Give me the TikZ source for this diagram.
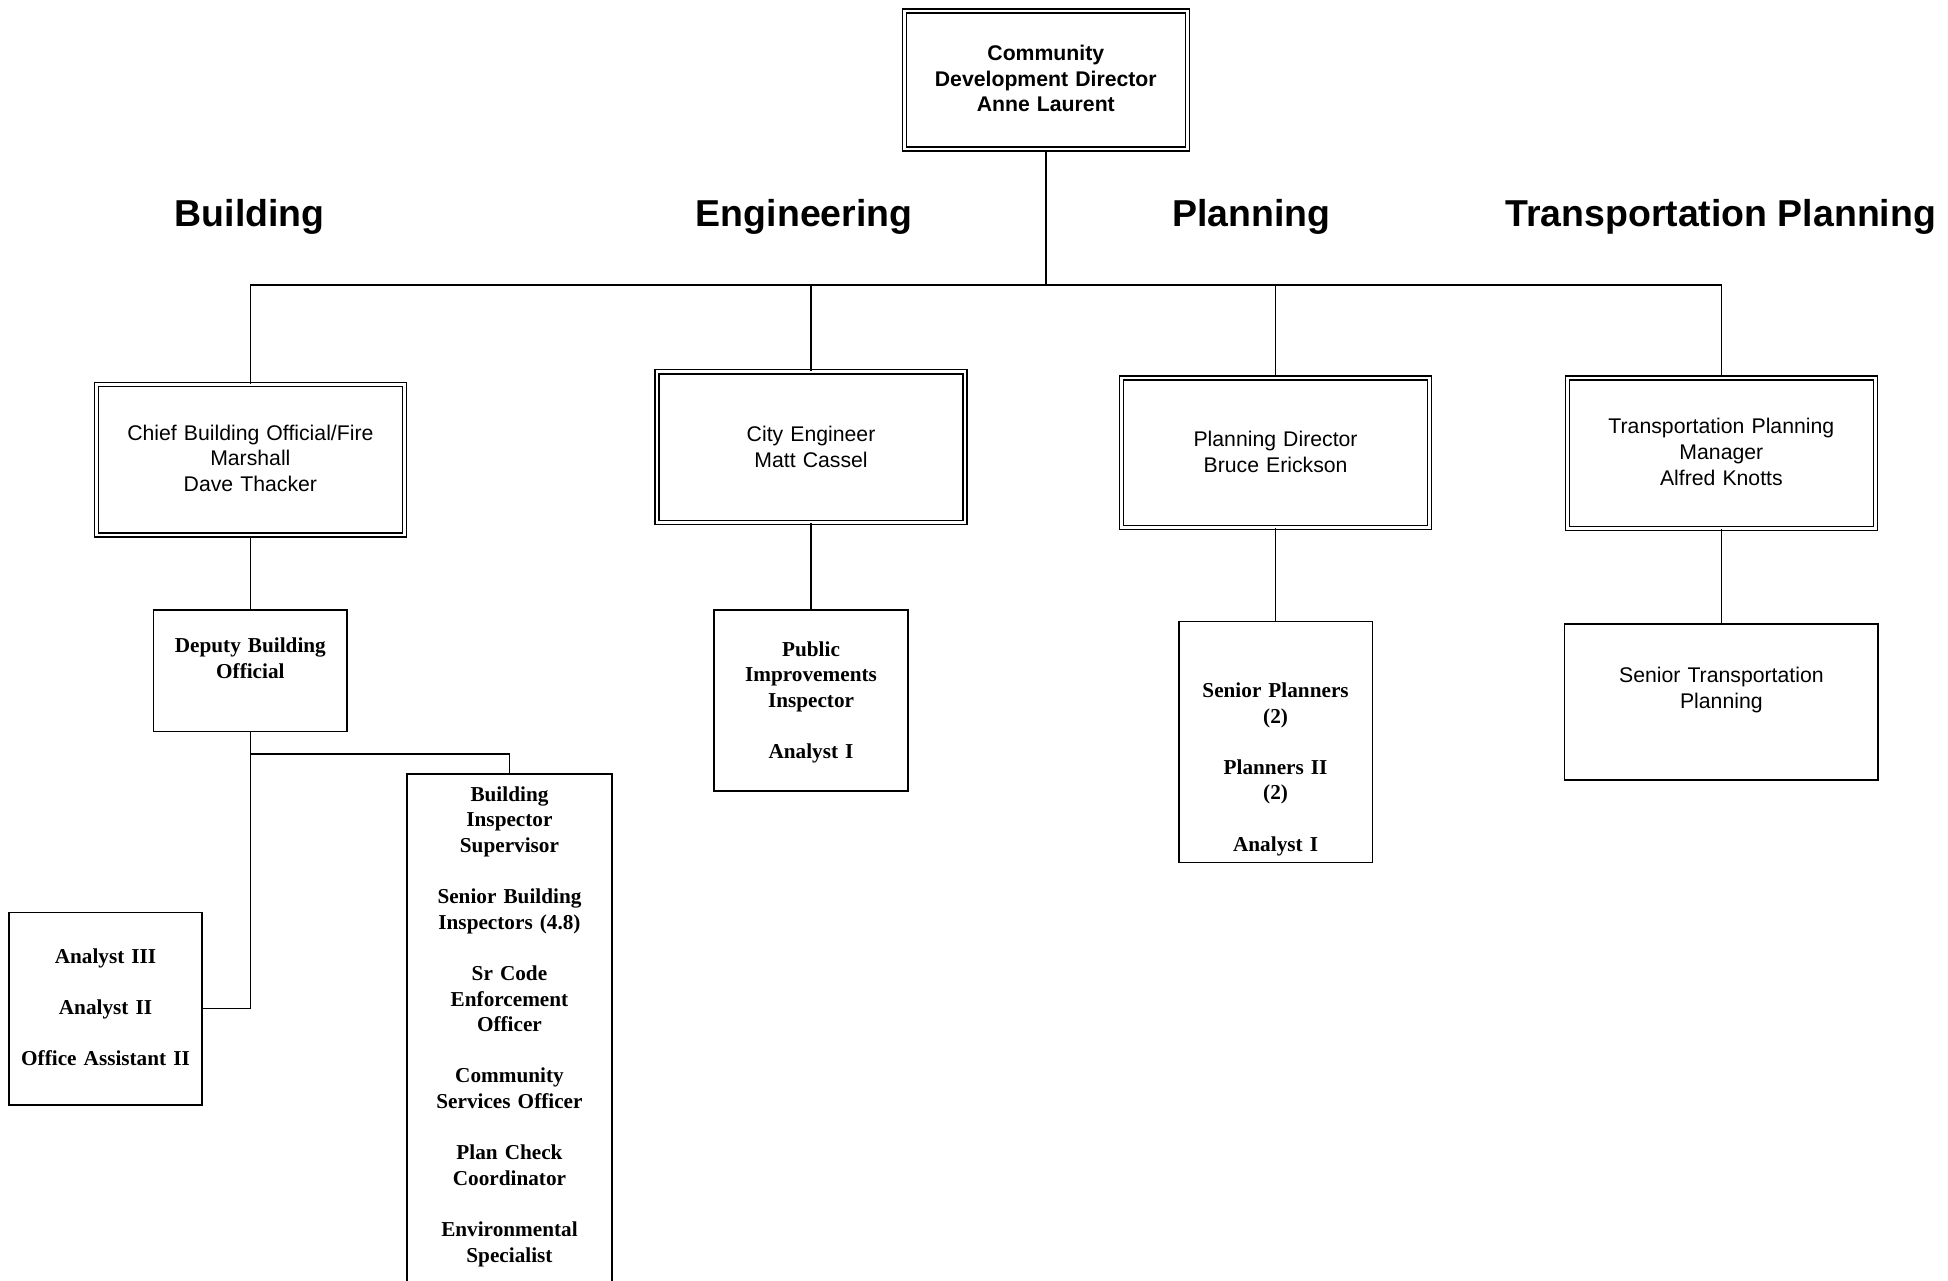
\documentclass[tikz,border=0pt]{standalone}
\usepackage{fontspec}
\setmainfont{Liberation Serif}
\setsansfont{Liberation Sans}
\usepackage{tikz}

\begin{document}
\begin{tikzpicture}[x=0.5pt, y=-0.5pt, line width=0.65pt,
    head/.style={font=\sffamily\bfseries\fontsize{15}{18}\selectfont, anchor=base},
    unit/.style={draw, anchor=north, inner sep=0pt, align=center},
    lead/.style={unit, double, double distance=1.1pt, line width=0.55pt, font=\sffamily\fontsize{8.5}{10.25}\selectfont},
    staff/.style={unit, font=\rmfamily\bfseries\fontsize{8.5}{10.25}\selectfont}]
    \useasboundingbox (0,0) rectangle (1560,1025.85);

    % Director on top
    \node[lead, font=\sffamily\bfseries\fontsize{8.5}{10.25}\selectfont, text width=113.3pt, text height=19.9pt, text depth=35.4pt] (cdd) at (837.5,8.2) {Community\\Development Director\\Anne Laurent};

    % Division headings
    \node[head] (hbuild) at (200,181) {Building};
    \node[head] (heng) at (644,181) {Engineering};
    \node[head] (hplan) at (1002,181) {Planning};
    \node[head] (htrans) at (1378,181) {Transportation Planning};

    % Division heads
    \node[lead, text width=123.3pt, text height=22.4pt, text depth=37.9pt] (chief) at (200.5,307.2) {Chief Building Official/Fire\\Marshall\\Dave Thacker};
    \node[lead, text width=123.3pt, text height=27.9pt, text depth=32.4pt] (eng) at (649.5,297.2) {City Engineer\\Matt Cassel};
    \node[lead, text width=123.3pt, text height=27.4pt, text depth=32.4pt] (plan) at (1021.5,302.2) {Planning Director\\Bruce Erickson};
    \node[lead, text width=123.3pt, text height=22.4pt, text depth=37.9pt] (trans) at (1378.5,302.2) {Transportation Planning\\Manager\\Alfred Knotts};

    % Staff boxes
    \node[staff, text width=77.5pt, text height=17pt, text depth=31.5pt] (deputy) at (200.5,488) {Deputy Building\\Official};
    \node[staff, text width=77.5pt, text height=18.5pt, text depth=54pt] (inspector) at (649.5,488) {Public\\Improvements\\Inspector\\[10.25pt]Analyst I};
    \node[staff, text width=77.5pt, text height=30.5pt, text depth=66pt] (planners) at (1021.5,497) {Senior Planners\\(2)\\[10.25pt]Planners II\\(2)\\[10.25pt]Analyst I};
    \node[unit, font=\sffamily\fontsize{8.5}{10.25}\selectfont, text width=125.5pt, text height=23.5pt, text depth=39pt] (seniortp) at (1378.5,499) {Senior Transportation\\Planning};
    \node[staff, text width=82pt, text height=11pt, text depth=220pt] (bldgstaff) at (408,619) {Building\\Inspector\\Supervisor\\[10.25pt]Senior Building\\Inspectors (4.8)\\[10.25pt]Sr Code\\Enforcement\\Officer\\[10.25pt]Community\\Services Officer\\[10.25pt]Plan Check\\Coordinator\\[10.25pt]Environmental\\Specialist};
    \node[staff, text width=77.5pt, text height=20.5pt, text depth=56.5pt] (analysts) at (84.5,730) {Analyst III\\[10.25pt]Analyst II\\[10.25pt]Office Assistant II};

    % Connectors
    \coordinate (bus) at (cdd.south |- 0,228);
    \draw (cdd.south) -- (bus);
    \foreach \dept in {chief, eng, plan, trans}
        \draw (bus) -| (\dept.north);
    \draw (chief) -- (deputy);
    \draw (eng) -- (inspector);
    \draw (plan) -- (planners);
    \draw (trans) -- (seniortp);
    \draw (deputy.south) |- (analysts.east);
    \coordinate (split) at (deputy.south |- 0,604);
    \draw (split) -| (bldgstaff.north);
\end{tikzpicture}
\end{document}
